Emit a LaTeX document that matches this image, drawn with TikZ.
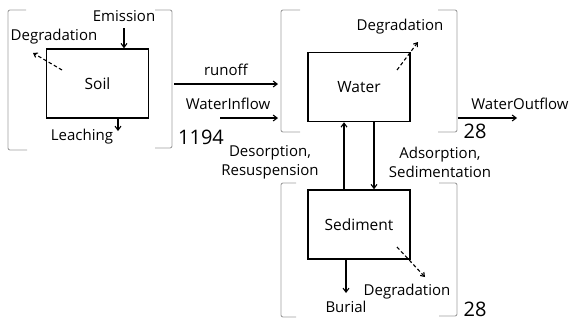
\documentclass[tikz,border=0pt]{standalone}
\usepackage{fontspec}
\setmainfont{Open Sans}
\usetikzlibrary{arrows.meta}
\begin{document}
\begin{tikzpicture}[x=1pt,y=-1pt,
  box/.style={draw=black,line width=1.5pt,minimum width=102pt,minimum height=69pt,inner sep=0pt,font=\fontsize{15.5}{17}\selectfont},
  lbl/.style={inner sep=0pt,font=\fontsize{15}{19}\selectfont,align=center},
  big/.style={inner sep=0pt,font=\fontsize{20}{21}\selectfont},
  brk/.style={draw=gray!75,line width=0.9pt,rounded corners=2pt},
  flow/.style={draw=black,line width=1.1pt,-{Straight Barb[length=4pt,width=6pt]}},
  deg/.style={draw=black,line width=1.1pt,dashed,dash pattern=on 3.5pt off 2.5pt,-{Straight Barb[length=3.5pt,width=5pt]}}]
\useasboundingbox (0,0) rectangle (569,322);
% boxes
\node[box] (soil) at (97.5,83.5) {Soil};
\node[box] (water) at (359,87) {Water};
\node[box] (sed) at (359,224.5) {Sediment};
% brackets
\draw[brk] (26,10) -- (8,10) -- (8,150) -- (27,150);
\draw[brk] (155,10) -- (172,10) -- (172,148) -- (155,148);
\draw[brk] (300,10) -- (281,10) -- (281,132) -- (300,132);
\draw[brk] (438,10) -- (457,10) -- (457,132) -- (438,132);
\draw[brk] (296,183) -- (281,183) -- (281,317) -- (296,317);
\draw[brk] (439,183) -- (457,183) -- (457,316) -- (439,316);
% soil
\node[lbl] (emis) at (124,16) {Emission};
\coordinate (emisS) at (124,28);
\draw[flow] (emisS) -- (soil.north -| emisS);
\node[lbl] (sdeg) at (54,37) {Degradation};
\coordinate (sdegA) at (62,70);
\coordinate (sdegB) at (33,53);
\draw[deg] (sdegA) -- (sdegB);
\node[lbl] (leach) at (82,137) {Leaching};
\coordinate (leachE) at (118,131);
\draw[flow] (soil.south -| leachE) -- (leachE);
\node[big] (n1194) at (201,137) {1194};
% inflows
\node[lbl] (runoff) at (226,70) {runoff};
\coordinate (runA) at (174,84);
\coordinate (runB) at (278,84);
\draw[flow] (runA) -- (runB);
\node[lbl] (winf) at (228,104) {WaterInflow};
\coordinate (winA) at (220,118);
\coordinate (winB) at (278,118);
\draw[flow] (winA) -- (winB);
% water
\node[lbl] (wdeg) at (400,27) {Degradation};
\coordinate (wdegA) at (397,70);
\coordinate (wdegB) at (418,42);
\draw[deg] (wdegA) -- (wdegB);
\node[lbl] (wout) at (520,104) {WaterOutflow};
\coordinate (woutA) at (458,118);
\coordinate (woutB) at (517,118);
\draw[flow] (woutA) -- (woutB);
\node[big] (n28a) at (475,131) {28};
% exchange
\coordinate (upx) at (344,0);
\coordinate (dnx) at (374,0);
\draw[flow] (sed.north -| upx) -- (water.south -| upx);
\draw[flow] (water.south -| dnx) -- (sed.north -| dnx);
\node[lbl] (desorp) at (270,162) {Desorption,\\Resuspension};
\node[lbl] (adsorp) at (440,162) {Adsorption,\\Sedimentation};
% sediment
\coordinate (burE) at (346,293);
\draw[flow] (sed.south -| burE) -- (burE);
\node[lbl] (burial) at (346,307) {Burial};
\node[lbl] (sdeg2) at (407,292) {Degradation};
\coordinate (sdeg2A) at (397,247);
\coordinate (sdeg2B) at (425,277);
\draw[deg] (sdeg2A) -- (sdeg2B);
\node[big] (n28b) at (475,309) {28};
\end{tikzpicture}
\end{document}
